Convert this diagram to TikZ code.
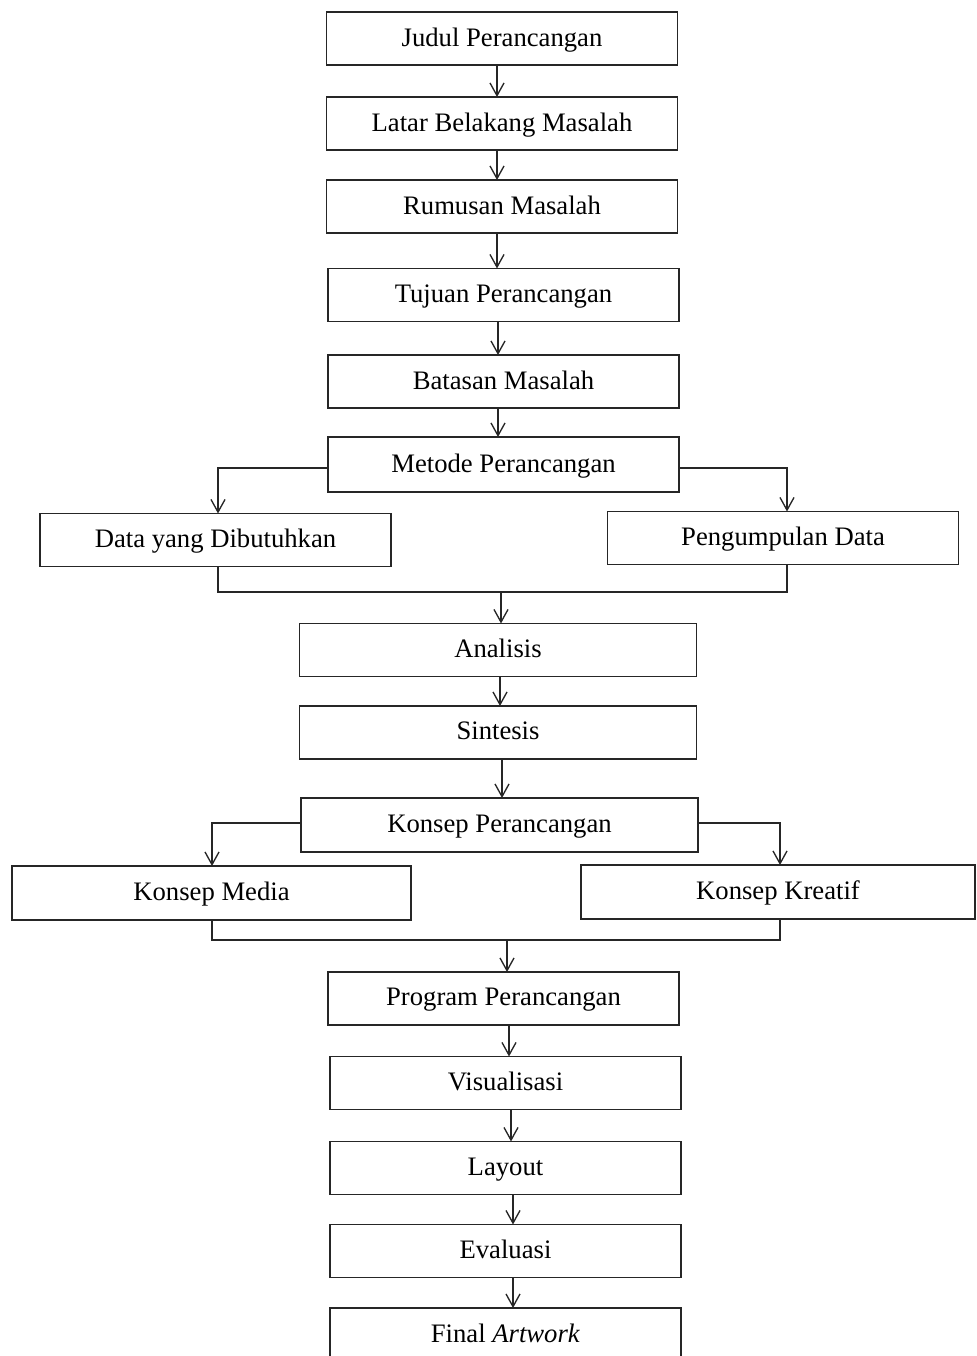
\documentclass[tikz,border=0pt]{standalone}
\usepackage{fontspec}
\setmainfont{Liberation Serif}
\usetikzlibrary{arrows.meta}
\begin{document}
\begin{tikzpicture}[x=0.75pt,y=-0.75pt,
  box/.style={draw=black!85, line width=1.3pt, inner sep=0pt, outer sep=0pt,
    minimum height=39.75pt, font=\fontsize{20}{23}\selectfont, text depth=0.24em},
  wa/.style={box, minimum width=263.25pt},
  wb/.style={box, minimum width=297.75pt},
  conn/.style={draw=black!85, line width=1pt},
  arr/.style={conn, -{Straight Barb[length=9.5pt,width=10.5pt,line width=1pt]}}]
\useasboundingbox (0,0) rectangle (976,1356);
\clip (0,0) rectangle (976,1356);
\fill[white] (0,0) rectangle (976,1356);
% main column
\node[wa] (j) at (502,38.5) {Judul Perancangan};
\node[wa] (l) at (502,123.5) {Latar Belakang Masalah};
\node[wa] (r) at (502,206.5) {Rumusan Masalah};
\node[wa] (t) at (503.5,295) {Tujuan Perancangan};
\node[wa] (b) at (503.5,381.5) {Batasan Masalah};
\node[wa, minimum height=41.25pt] (m) at (503.5,464.5) {Metode Perancangan};
\node[wa] (d) at (215.5,540) {Data yang Dibutuhkan};
\node[wa] (p) at (783,538) {Pengumpulan Data};
\node[wb] (a) at (498,650) {Analisis};
\node[wb] (s) at (498,732.5) {Sintesis};
\node[wb, minimum height=40.5pt] (kp) at (499.5,825) {Konsep Perancangan};
\node[box, minimum width=299.25pt, minimum height=40.5pt] (km) at (211.5,893) {Konsep Media};
\node[box, minimum width=295.5pt, minimum height=40.5pt] (kk) at (778,892) {Konsep Kreatif};
\node[wa] (pr) at (503.5,998.5) {Program Perancangan};
\node[wa] (v) at (505.5,1083) {Visualisasi};
\node[wa] (ly) at (505.5,1168) {Layout};
\node[wa] (e) at (505.5,1251) {Evaluasi};
\node[wa] (f) at (505.5,1334.5) {Final \textit{Artwork}};
% straight arrows
\draw[arr] (j.south -| 497,0) -- (l.north -| 497,0);
\draw[arr] (l.south -| 497,0) -- (r.north -| 497,0);
\draw[arr] (r.south -| 497,0) -- (t.north -| 497,0);
\draw[arr] (t.south -| 498,0) -- (b.north -| 498,0);
\draw[arr] (b.south -| 498,0) -- (m.north -| 498,0);
% branch 1
\coordinate (m1) at (218,468);
\coordinate (m2) at (787,468);
\draw[arr] (m.west |- m1) -- (m1) -- (d.north -| m1);
\draw[arr] (m.east |- m2) -- (m2) -- (p.north -| m2);
\coordinate (j1) at (218,592);
\coordinate (j2) at (787,592);
\coordinate (j3) at (501,592);
\draw[conn] (d.south -| j1) -- (j1) -- (j2) -- (p.south -| j2);
\draw[arr] (j3) -- (a.north -| j3);
\draw[arr] (a.south -| 500,0) -- (s.north -| 500,0);
\draw[arr] (s.south -| 502,0) -- (kp.north -| 502,0);
% branch 2
\coordinate (k1) at (212,823);
\coordinate (k2) at (780,823);
\draw[arr] (kp.west |- k1) -- (k1) -- (km.north -| k1);
\draw[arr] (kp.east |- k2) -- (k2) -- (kk.north -| k2);
\coordinate (g1) at (212,940);
\coordinate (g2) at (780,940);
\coordinate (g3) at (507,940);
\draw[conn] (km.south -| g1) -- (g1) -- (g2) -- (kk.south -| g2);
\draw[arr] (g3) -- (pr.north -| g3);
\draw[arr] (pr.south -| 509,0) -- (v.north -| 509,0);
\draw[arr] (v.south -| 511,0) -- (ly.north -| 511,0);
\draw[arr] (ly.south -| 513,0) -- (e.north -| 513,0);
\draw[arr] (e.south -| 513,0) -- (f.north -| 513,0);
\end{tikzpicture}
\end{document}
